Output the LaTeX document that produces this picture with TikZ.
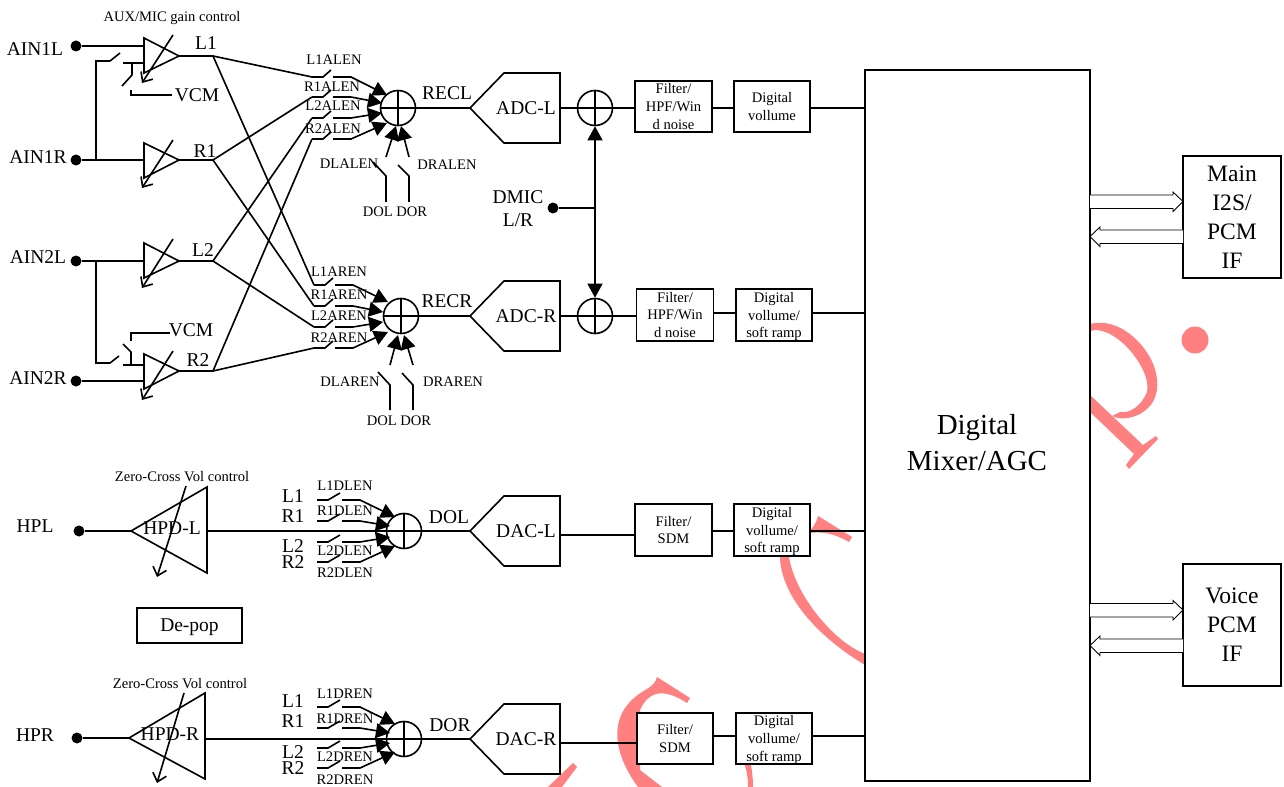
\documentclass[tikz,border=0pt]{standalone}
\usepackage{fontspec}
\setmainfont{Liberation Serif}
\definecolor{wmred}{RGB}{255,128,128}
\usetikzlibrary{arrows.meta, calc}
\begin{document}
\begin{tikzpicture}[
  x=0.02cm, y=-0.02cm, line width=0.92pt,
  lbl/.style={font=\fontsize{11.1}{13}\selectfont, inner sep=0pt},
  slbl/.style={font=\fontsize{8.3}{10}\selectfont, inner sep=0pt},
  box/.style={draw, fill=white, align=center, inner sep=0pt, font=\fontsize{8.3}{10}\selectfont},
  ifbox/.style={draw, fill=white, align=center, inner sep=0pt, minimum width=1.96cm, minimum height=2.44cm, font=\fontsize{13.4}{16.4}\selectfont},
  dot/.style={circle, fill=black, inner sep=0pt, outer sep=0pt, minimum size=0.22cm},
  mixer/.style={circle, draw, inner sep=0pt, minimum size=0.7cm,
    path picture={\draw (path picture bounding box.north) -- (path picture bounding box.south)
      (path picture bounding box.west) -- (path picture bounding box.east);}},
  arr/.style={-{Triangle[length=8pt, width=8.5pt]}},
  barb/.style={-{Straight Barb[length=4.5pt, width=8pt]}},
  dbl/.style={line width=0.5pt, fill=white},
  wm/.style={fill=wmred, draw=none}
]
  \useasboundingbox (0,0) rectangle (1284,787);

  % ── Watermark ──
  \fill[wm] (1195,340) circle (13.5);
  \fill[wm] (1090,395) -- (1143,445) -- (1156,436) -- (1158,439) -- (1129,469) -- (1126,465) -- (1134,454) -- (1090,412) -- cycle;
  \fill[wm] (1090,324) .. controls (1105,320) and (1125,325) .. (1143,347) .. controls (1160,368) and (1162,395) .. (1148,408)
    .. controls (1138,418) and (1122,421) .. (1112,416) -- (1120,412) .. controls (1130,414) and (1142,405) .. (1147,392)
    .. controls (1150,375) and (1135,355) .. (1125,345) .. controls (1112,333) and (1100,328) .. (1090,331) -- cycle;
  \fill[wm] (805,534) .. controls (812,530) and (816,524) .. (818,516) -- (852,537) -- (849,542) .. controls (835,534) and (822,530) .. (805,534) -- cycle;
  \fill[wm] (780,540) -- (780,556) .. controls (780,590) and (810,632) .. (865,665) -- (865,654) .. controls (830,640) and (793,590) .. (789,556) -- (789,540) -- cycle;
  \fill[wm] (657,677) -- (690,698) -- (687,703) .. controls (667,690) and (650,688) .. (640,710) -- (640,770) -- (662,787) -- (638,787)
    .. controls (618,760) and (600,715) .. (647,689) .. controls (652,686) and (656,682) .. (657,677) -- cycle;
  \fill[wm] (743,760) .. controls (747,770) and (748,778) .. (748,787) -- (753,787) .. controls (753,778) and (752,770) .. (750,760) -- cycle;
  \fill[wm] (548,787) -- (573,763) -- (577,767) -- (562,787) -- cycle;

  % ── Digital mixer and interfaces ──
  \node[draw, fill=white, minimum width=4.5cm, minimum height=14.22cm, inner sep=0pt] (bigbox) at (977.5,425.5) {};
  \node[font=\fontsize{16.5}{20.5}\selectfont, align=center, inner sep=0pt] (biglbl) at (977,443) {Digital\\Mixer/AGC};
  \node[ifbox] (main) at (1232,217) {Main\\I2S/\\PCM\\IF};
  \node[ifbox] (voice) at (1232,625) {Voice\\PCM\\IF};

  \foreach \nm/\ya/\yb in {mainl/201.5/236.5, voicel/610/645.5} {
    \coordinate (\nm a) at (1090,\ya);
    \coordinate (\nm b) at (1183,\ya);
    \coordinate (\nm c) at (1183,\yb);
    \coordinate (\nm d) at (1090,\yb);
    \draw[dbl] (\nm a) ++(0,-6.5) -- ++(83,0) -- ++(0,-3) -- (\nm b) -- ++(-10,10) -- ++(0,-3) -- ++(-83,0);
    \draw[dbl] (\nm c) ++(0,-6.5) -- ++(-83,0) -- ++(0,-3) -- (\nm d) -- ++(10,10) -- ++(0,-3) -- ++(83,0);
  }

  % ── Analog inputs ──
  \foreach \nm/\txt/\y/\lx/\ly in {ainal/AIN1L/46/35/49, ainar/AIN1R/160/38/157, ainbl/AIN2L/261/38/257, ainbr/AIN2R/381/38/378} {
    \node[dot] (\nm) at (76,\y) {};
    \node[lbl] (\nm lbl) at (\lx,\ly) {\txt};
  }
  \node[slbl] (gainlbl) at (172,18) {AUX/MIC gain control};

  % ── Input amplifiers ──
  \foreach \nm/\y/\top/\bot/\stop/\sbot in {ampa/56/38/73/35/83, ampb/160/143/178/140/188, ampc/261/243/278/239/288, ampd/371/354/389/351/400} {
    \draw (144,\top) -- (144,\bot) -- (179,\y) -- cycle;
    \coordinate (\nm st) at (173,\stop);
    \coordinate (\nm sb) at (142,\sbot);
    \draw[barb] (\nm st) -- (\nm sb);
    \coordinate (\nm o) at (179,\y);
    \coordinate (\nm j) at (213,\y);
    \draw (\nm o) -- (\nm j);
  }
  \node[lbl] (lalbl) at (206,43) {L1};
  \node[lbl] (ralbl) at (205,151) {R1};
  \node[lbl] (lblbl) at (203,250) {L2};
  \node[lbl] (rblbl) at (198,360) {R2};

  \coordinate (ampai) at (144,46);
  \coordinate (ampbi) at (144,160);
  \coordinate (ampci) at (144,261);
  \coordinate (ampdi) at (144,381);
  \draw (ainal) -- (ampai);
  \draw (ainar) -- (ampbi);
  \draw (ainbl) -- (ampci);
  \draw (ainbr) -- (ampdi);

  % ── Mic bias switches ──
  \coordinate (jtop) at (96,160);
  \coordinate (jtopa) at (96,61);
  \coordinate (jtopb) at (110,61);
  \coordinate (jtopc) at (120,53);
  \coordinate (jtopd) at (123,63);
  \coordinate (jtope) at (144,63);
  \draw (jtop) -- (jtopa) -- (jtopb) -- (jtopc);
  \draw (jtopd) -- (jtope);
  \coordinate (vcmaa) at (132,63);
  \coordinate (vcmab) at (132,75);
  \coordinate (vcmac) at (122,86);
  \coordinate (vcmad) at (131,90);
  \coordinate (vcmae) at (131,95);
  \coordinate (vcmaf) at (172,95);
  \draw (vcmaa) -- (vcmab) -- (vcmac);
  \draw (vcmad) -- (vcmae) -- (vcmaf);
  \node[lbl] (vcmalbl) at (197,95) {VCM};

  \coordinate (jbot) at (96,261);
  \coordinate (jbota) at (96,363);
  \coordinate (jbotb) at (110,363);
  \coordinate (jbotc) at (119,356);
  \coordinate (jbotd) at (123,365);
  \coordinate (jbote) at (144,365);
  \draw (jbot) -- (jbota) -- (jbotb) -- (jbotc);
  \draw (jbotd) -- (jbote);
  \coordinate (vcmba) at (131,365);
  \coordinate (vcmbb) at (131,352);
  \coordinate (vcmbc) at (123,344);
  \coordinate (vcmbd) at (131,341);
  \coordinate (vcmbe) at (131,333);
  \coordinate (vcmbf) at (170,333);
  \draw (vcmba) -- (vcmbb) -- (vcmbc);
  \draw (vcmbd) -- (vcmbe) -- (vcmbf);
  \node[lbl] (vcmblbl) at (191,330) {VCM};

  % ── Summing nodes ──
  \node[mixer] (recl) at (398,108) {};
  \node[mixer] (recr) at (401,316) {};
  \node[mixer] (dol) at (404,531) {};
  \node[mixer] (dor) at (404,739) {};
  \node[lbl] (recllbl) at (447,93) {RECL};
  \node[lbl] (recrlbl) at (447,301) {RECR};
  \node[lbl] (dollbl) at (449,517) {DOL};
  \node[lbl] (dorlbl) at (450,725) {DOR};

  % ── Mixer input switches ──
  \foreach \nm/\xa/\xb/\ya/\xt/\yt in {
    swa/323/333/77/387/95, swb/323/333/97/382/103, swc/323/333/118/382/113, swd/323/333/139/387/123,
    swe/325/335/285/388/302, swf/325/335/306/383/312, swg/325/335/327/383/322, swh/325/335/348/388/332,
    swi/328/342/500/395/517, swj/328/342/521/390/526, swk/328/342/542/390/537, swl/328/342/562/395/546,
    swm/328/342/707/395/724, swn/328/342/728/390/733, swo/328/342/748/390/743, swp/328/342/768/395/752} {
    \coordinate (\nm s) at (\xa-11,\ya);
    \coordinate (\nm l) at (\xa,\ya);
    \coordinate (\nm b) at (\xb-2,\ya-7);
    \coordinate (\nm r) at (\xb,\ya);
    \coordinate (\nm k) at (\xb+18,\ya);
    \coordinate (\nm t) at (\xt,\yt);
    \draw (\nm s) -- (\nm l) -- (\nm b);
    \draw[arr] (\nm r) -- (\nm k) -- (\nm t);
  }

  % ── Cross wiring ──
  \draw (ampaj) -- (swas);
  \draw (ampbj) -- (swbs);
  \draw (ampcj) -- (swcs);
  \draw (ampdj) -- (swds);
  \draw (ampaj) -- (swes);
  \draw (ampbj) -- (swfs);
  \draw (ampcj) -- (swgs);
  \draw (ampdj) -- (swhs);

  \foreach \nm/\txt/\x/\y in {
    lala/L1ALEN/334/60, rala/R1ALEN/332/87, lbla/L2ALEN/333/106, rbla/R2ALEN/333/129,
    lara/L1AREN/339/272, rara/R1AREN/339/295, lbra/L2AREN/339/316, rbra/R2AREN/339/338,
    dlal/DLALEN/349/164, dral/DRALEN/447/165, dlar/DLAREN/350/382, drar/DRAREN/453/382,
    dorl/DOL DOR/395/212, dorr/DOL DOR/399/421,
    lald/L1DLEN/345/486, rald/R1DLEN/345/511, lbld/L2DLEN/345/551, rbld/R2DLEN/345/573,
    lard/L1DREN/345/694, rard/R1DREN/345/719, lbrd/L2DREN/345/757, rbrd/R2DREN/345/780} {
    \node[slbl] (\nm) at (\x,\y) {\txt};
  }

  % ── DOL / DOR feedback switches ──
  \foreach \nm/\x/\xb/\xt/\ytip/\yst/\yk/\yb/\yp in {
    fba/386/373/396/126/157/176/162/202, fbb/409/398/401/126/157/176/165/202,
    fbc/390/378/398/335/365/385/372/410, fbd/413/402/404/335/365/385/373/410} {
    \coordinate (\nm s) at (\x,\yst);
    \coordinate (\nm t) at (\xt,\ytip);
    \draw[arr] (\nm s) -- (\nm t);
    \coordinate (\nm p) at (\x,\yp);
    \coordinate (\nm k) at (\x,\yk);
    \coordinate (\nm b) at (\xb,\yb);
    \draw (\nm p) -- (\nm k) -- (\nm b);
  }

  % ── Converters ──
  \foreach \nm/\txt/\y/\yo in {adcl/ADC-L/108/108, adcr/ADC-R/316/316, dacl/DAC-L/531/535, dacr/DAC-R/739/743} {
    \draw[fill=white] (470,\y) -- (504,\y-35) -- (560,\y-35) -- (560,\y+35) -- (504,\y+35) -- cycle;
    \coordinate (\nm i) at (470,\y);
    \coordinate (\nm o) at (560,\yo);
    \node[lbl] (\nm) at (526,\y) {\txt};
  }
  \draw (recl) -- (adcli);
  \draw (recr) -- (adcri);
  \draw (dol) -- (dacli);
  \draw (dor) -- (dacri);

  % ── DMIC ──
  \node[mixer] (dmixl) at (595,108) {};
  \node[mixer] (dmixr) at (595,316) {};
  \node[dot] (dmic) at (553,208) {};
  \node[lbl, align=center] (dmiclbl) at (518,209) {DMIC\\L/R};
  \draw[{Triangle[length=8pt, width=8.5pt]}-{Triangle[length=8pt, width=8.5pt]}] (dmixl) -- (dmixr);
  \draw (dmic) -- (dmic -| dmixl);
  \draw (adclo) -- (dmixl);
  \draw (adcro) -- (dmixr);

  % ── Digital path blocks ──
  \node[box, minimum width=1.54cm, minimum height=1.02cm] (filta) at (673.5,106.5) {Filter/\\HPF/Win\\d noise};
  \node[box, minimum width=1.52cm, minimum height=1.02cm] (vola) at (772,106.5) {Digital\\vollume};
  \node[box, minimum width=1.54cm, minimum height=1.04cm] (filtb) at (675,315) {Filter/\\HPF/Win\\d noise};
  \node[box, text depth=0pt, minimum width=1.52cm, minimum height=1.04cm] (volb) at (774,315) {Digital\\vollume/\\soft ramp};
  \node[box, minimum width=1.54cm, minimum height=1.04cm] (filtc) at (673.5,530) {Filter/\\SDM};
  \node[box, text depth=0pt, minimum width=1.52cm, minimum height=1.04cm] (volc) at (772,530) {Digital\\vollume/\\soft ramp};
  \node[box, minimum width=1.52cm, minimum height=1.02cm] (filtd) at (675,738.5) {Filter/\\SDM};
  \node[box, text depth=0pt, minimum width=1.52cm, minimum height=1.02cm] (vold) at (774,738.5) {Digital\\vollume/\\soft ramp};

  \coordinate (busa) at (bigbox.west |- dmixl);
  \coordinate (busb) at (865,313);
  \coordinate (busc) at (865,531);
  \coordinate (busd) at (865,736);
  \draw (dmixl) -- (filta.west |- dmixl);
  \draw (filta.east |- dmixl) -- (vola.west |- dmixl);
  \draw (vola.east |- dmixl) -- (busa);
  \draw (dmixr) -- (filtb.west |- dmixr);
  \draw (filtb.east |- busb) -- (volb.west |- busb);
  \draw (volb.east |- busb) -- (busb);
  \draw (daclo) -- (filtc.west |- daclo);
  \draw (filtc.east |- busc) -- (volc.west |- busc);
  \draw (volc.east |- busc) -- (busc);
  \draw (dacro) -- (filtd.west |- dacro);
  \draw (filtd.east |- busd) -- (vold.west |- busd);
  \draw (vold.east |- busd) -- (busd);

  % ── Headphone drivers ──
  \node[dot] (hpl) at (79,531) {};
  \node[dot] (hpr) at (77,738) {};
  \node[lbl] (hpllbl) at (35,526) {HPL};
  \node[lbl] (hprlbl) at (35,735) {HPR};
  \node[slbl] (zcla) at (182,477) {Zero-Cross Vol control};
  \node[slbl] (zclb) at (180,684) {Zero-Cross Vol control};

  \coordinate (drvli) at (131,531);
  \coordinate (drvlt) at (207,487);
  \coordinate (drvlb) at (207,573);
  \coordinate (drvlo) at (207,531);
  \draw (drvli) -- (drvlt) -- (drvlb) -- cycle;
  \coordinate (drvri) at (129,738);
  \coordinate (drvrt) at (205,693);
  \coordinate (drvrb) at (205,779);
  \coordinate (drvro) at (205,739);
  \draw (drvri) -- (drvrt) -- (drvrb) -- cycle;
  \node[lbl] (drvllbl) at (172,528) {HPD-L};
  \node[lbl] (drvrlbl) at (170,734) {HPD-R};
  \coordinate (slla) at (186,486);
  \coordinate (sllb) at (157,577);
  \coordinate (slra) at (184,693);
  \coordinate (slrb) at (157,783);
  \draw[barb] (slla) -- (sllb);
  \draw[barb] (slra) -- (slrb);
  \draw (hpl) -- (drvli);
  \draw (hpr) -- (drvri);
  \draw (drvlo) -- (dol);
  \draw (drvro) -- (dor);

  \foreach \nm/\txt/\y in {hla/L1/496, hra/R1/516, hlb/L2/546, hrb/R2/562, hlc/L1/701, hrc/R1/721, hld/L2/752, hrd/R2/768} {
    \node[lbl] (\nm) at (293,\y) {\txt};
  }

  \node[draw, lbl, text depth=0pt, minimum width=2.1cm, minimum height=0.7cm] (depop) at (189.5,625.5) {De-pop};
\end{tikzpicture}
\end{document}
